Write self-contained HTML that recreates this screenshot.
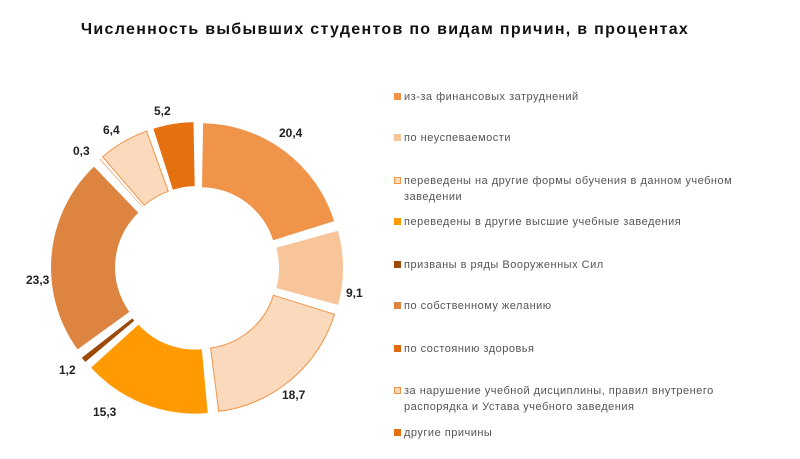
<!DOCTYPE html><html><head><meta charset="utf-8"><style>
body{margin:0;width:800px;height:459px;background:#fff;font-family:"Liberation Sans",sans-serif;overflow:hidden;position:relative}
.t{position:absolute;left:0;width:770px;top:21px;text-align:center;font-weight:bold;font-size:16px;letter-spacing:1.3px;color:#111}
.lg{position:absolute;left:394px;font-size:11px;letter-spacing:0.5px;color:#555;line-height:16px;width:378px}
.lg i{position:absolute;left:0;top:4px;width:7px;height:7px}
.lg span{display:block;padding-left:10px}
.v{position:absolute;font-size:12px;font-weight:bold;color:#222}
</style></head><body>
<div class="t">Численность выбывших студентов по видам причин, в процентах</div>
<svg id="s" width="800" height="459" style="position:absolute;left:0;top:0"></svg>
<div class="v" style="left:279px;top:126px">20,4</div>
<div class="v" style="left:346px;top:286px">9,1</div>
<div class="v" style="left:282px;top:388px">18,7</div>
<div class="v" style="left:93px;top:405px">15,3</div>
<div class="v" style="left:59px;top:363px">1,2</div>
<div class="v" style="left:26px;top:273px">23,3</div>
<div class="v" style="left:73px;top:144px">0,3</div>
<div class="v" style="left:103px;top:123px">6,4</div>
<div class="v" style="left:154px;top:104px">5,2</div>
<div class="lg" style="top:89px"><i style="background:#F0944A"></i><span>из-за финансовых затруднений</span></div>
<div class="lg" style="top:130px"><i style="background:#F8C59A"></i><span>по неуспеваемости</span></div>
<div class="lg" style="top:173px"><i style="background:#FBD9BC;border:1px solid #F0944A;width:5px;height:5px"></i><span>переведены на другие формы обучения в данном учебном заведении</span></div>
<div class="lg" style="top:214px"><i style="background:#FF9A00"></i><span>переведены в другие высшие учебные заведения</span></div>
<div class="lg" style="top:257px"><i style="background:#9C4A0A"></i><span>призваны в ряды Вооруженных Сил</span></div>
<div class="lg" style="top:298px"><i style="background:#DD8440"></i><span>по собственному желанию</span></div>
<div class="lg" style="top:341px"><i style="background:#E06A10"></i><span>по состоянию здоровья</span></div>
<div class="lg" style="top:383px"><i style="background:#FBD9BC;border:1px solid #F0944A;width:5px;height:5px"></i><span>за нарушение учебной дисциплины, правил внутренего распорядка и Устава учебного заведения</span></div>
<div class="lg" style="top:425px"><i style="background:#E5700F"></i><span>другие причины</span></div>
<script>
var d=[[20.4,"#F0944A",""],[9.1,"#F8C59A",""],[18.7,"#FBD9BC","#F0944A"],[15.3,"#FF9A00",""],[1.2,"#9C4A0A",""],[23.3,"#DD8440",""],[0.3,"#E06A10",""],[6.4,"#FBD9BC","#F0944A"],[5.2,"#E5700F",""]];
var cx=197,cy=268,R=140,r=76,a=0,tot=99.9,s="",ex=6;
function p(rr,t,ox,oy){return (cx+ox+rr*Math.sin(t)).toFixed(1)+","+(cy+oy-rr*Math.cos(t)).toFixed(1)}
d.forEach(function(e){var a0=a/tot*2*Math.PI,a1=(a+e[0])/tot*2*Math.PI,m=(a0+a1)/2;a+=e[0];
var ox=ex*Math.sin(m),oy=-ex*Math.cos(m),g=0.018;var b0=a0+g,b1=a1-g;if(b1<b0){b1=b0+0.004}
var lg=(b1-b0)>Math.PI?1:0;
s+='<path d="M'+p(R,b0,ox,oy)+' A'+R+','+R+' 0 '+lg+' 1 '+p(R,b1,ox,oy)+' L'+p(r,b1,ox,oy)+' A'+r+','+r+' 0 '+lg+' 0 '+p(r,b0,ox,oy)+' Z" fill="'+e[1]+'" stroke="'+(e[2]||"none")+'" stroke-width="1"/>';});
document.getElementById("s").innerHTML=s;
</script>
</body></html>
